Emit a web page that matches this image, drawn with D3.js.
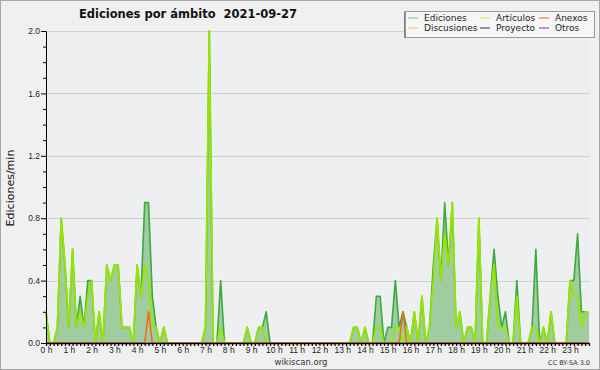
<!DOCTYPE html>
<html lang="es">
<head>
<meta charset="UTF-8">
<title>Ediciones por ámbito</title>
<script src="https://d3js.org/d3.v7.min.js"></script>
<style>
  body { margin: 0; background: #f0f0f0; }
  svg { display: block; font-family: "DejaVu Sans", sans-serif; }
</style>
</head>
<body>
<div id="chart"></div>
<script>
// one value per 10 minutes, 0:00 .. 23:50 (edits per minute)
var hourLabels = ["0 h","1 h","2 h","3 h","4 h","5 h","6 h","7 h","8 h","9 h","10 h","11 h",
                  "12 h","13 h","14 h","15 h","16 h","17 h","18 h","19 h","20 h","21 h","22 h","23 h"];

var ediciones = [
  0.2,0,0,0.1,0.8,0.5,  0.1,0.6,0.1,0.3,0.1,0.4,  0.4,0,0.2,0,0.5,0.4,  0.5,0.5,0.1,0.1,0.1,0,
  0.5,0.3,0.9,0.9,0.3,0.1,  0,0.1,0,0,0,0,  0,0,0,0,0,0,  0.1,2.0,0,0,0.4,0,
  0,0,0,0,0,0.1,  0,0,0.1,0.1,0.2,0,  0,0,0,0,0,0,  0,0,0,0,0,0,
  0,0,0,0,0,0,  0,0,0,0.1,0.1,0,  0.1,0,0,0.3,0.3,0,  0.1,0.1,0.4,0.1,0.2,0.1,
  0,0.2,0,0.3,0,0.1,  0.5,0.8,0.4,0.9,0.5,0.9,  0.1,0.2,0,0.1,0.1,0,  0.8,0,0,0.3,0.6,0.3,
  0.1,0.2,0,0,0.4,0,  0,0,0.1,0.6,0,0.1,  0,0.2,0,0,0,0,  0.4,0.4,0.7,0.2,0.2,0.2
];
var articulos = [
  0.2,0,0,0.1,0.8,0.5,  0.1,0.6,0.1,0.2,0.1,0.3,  0.4,0,0.2,0,0.5,0.4,  0.5,0.5,0.1,0.1,0.1,0,
  0.5,0.3,0.5,0.4,0.1,0.1,  0,0.1,0,0,0,0,  0,0,0,0,0,0,  0.1,2.0,0,0,0.1,0,
  0,0,0,0,0,0.1,  0,0,0.1,0.1,0,0,  0,0,0,0,0,0,  0,0,0,0,0,0,
  0,0,0,0,0,0,  0,0,0,0.1,0.1,0,  0.1,0,0,0.1,0.1,0,  0,0,0.1,0.1,0,0.1,
  0,0.2,0,0.3,0,0.1,  0.4,0.8,0.4,0.7,0.5,0.9,  0.1,0.2,0,0.1,0.1,0,  0.8,0,0,0.3,0.5,0.1,
  0.1,0.1,0,0,0.3,0,  0,0,0.1,0.1,0,0.1,  0,0.2,0,0,0,0,  0.4,0.3,0.3,0.1,0.2,0.2
];
var anexos = [
  0,0,0,0,0,0,  0,0,0,0,0,0,  0,0,0,0,0,0,  0,0,0,0,0,0,
  0,0,0,0.2,0,0,  0,0,0,0,0,0,  0,0,0,0,0,0,  0,0,0,0,0,0,
  0,0,0,0,0,0,  0,0,0,0,0,0,  0,0,0,0,0,0,  0,0,0,0,0,0,
  0,0,0,0,0,0,  0,0,0,0,0,0,  0,0,0,0,0,0,  0,0,0,0,0.2,0,
  0,0,0,0,0,0,  0,0,0,0,0,0,  0,0,0,0,0,0,  0,0,0,0,0,0,
  0,0,0,0,0,0,  0,0,0,0,0,0,  0,0,0,0,0,0,  0,0,0,0,0,0
];
// discusiones, proyecto, otros: nothing this day
var discusiones = [
  0,0,0,0,0,0,0,0,0,0,0,0,0,0,0,0,0,0,0,0,0,0,0,0,0,0,0,0,0,0,0,0,0,0,0,0,
  0,0,0,0,0,0,0,0,0,0,0,0,0,0,0,0,0,0,0,0,0,0,0,0,0,0,0,0,0,0,0,0,0,0,0,0,
  0,0,0,0,0,0,0,0,0,0,0,0,0,0,0,0,0,0,0,0,0,0,0,0,0,0,0,0,0,0,0,0,0,0,0,0,
  0,0,0,0,0,0,0,0,0,0,0,0,0,0,0,0,0,0,0,0,0,0,0,0,0,0,0,0,0,0,0,0,0,0,0,0
];
var proyecto = discusiones.slice();
var otros = discusiones.slice();

var legendNames = ["Ediciones","Artículos","Anexos","Discusiones","Proyecto","Otros"];
var legendColors = ["#8ccf8c","#cdee66","#ee7d3c","#eed45a","#555555","#9a4cf0"];

const W = 600, H = 370;
const margin = {top: 31, right: 11, bottom: 27, left: 46},
      width = W - margin.left - margin.right,
      height = H - margin.top - margin.bottom;

const svg = d3.select("#chart").append("svg")
    .attr("width", W).attr("height", H);

svg.append("rect").attr("x", 0.5).attr("y", 0.5).attr("width", W - 1).attr("height", H - 1)
    .attr("fill", "#f0f0f0").attr("stroke", "#a8a8a8");

const g = svg.append("g").attr("transform", `translate(${margin.left},${margin.top})`);

const x = d3.scaleLinear().domain([0, ediciones.length - 1]).range([0, width]);
const y = d3.scaleLinear().domain([0, 2]).range([height, 0]);

g.append("rect").attr("width", width).attr("height", height).attr("fill", "#eeeff1");

// grid
const yTicks = d3.range(0, 21).map(k => k / 10);
g.append("g").selectAll("line")
  .data(yTicks.filter((d, k) => k % 4 === 0 && d > 0))
  .join("line")
    .attr("x1", 0).attr("x2", width)
    .attr("y1", d => Math.round(y(d)) + 0.5).attr("y2", d => Math.round(y(d)) + 0.5)
    .attr("stroke", "#cfcfcf");

// total area
const area = d3.area().x((d, i) => x(i)).y0(y(0)).y1(d => y(d));
const line = d3.line().x((d, i) => x(i)).y(d => y(d));

g.append("path").datum(ediciones).attr("d", area).attr("fill", "#a0cca0");

var series = [
  {v: otros, c: "#9a4cf0", w: 1.5},
  {v: proyecto, c: "#555555", w: 1.5},
  {v: discusiones, c: "#eed45a", w: 1.5},
  {v: ediciones, c: "#3caa3c", w: 1.6},
  {v: articulos, c: "#96e600", w: 1.8},
  {v: anexos, c: "#ee6a1c", w: 1.5}
];
g.append("g").selectAll("path")
  .data(series)
  .join("path")
    .attr("d", d => line(d.v))
    .attr("fill", "none")
    .attr("stroke", d => d.c)
    .attr("stroke-width", d => d.w)
    .attr("stroke-linejoin", "round");

// axes
const yAxis = g.append("g")
  .call(d3.axisLeft(y).tickValues(yTicks).tickSize(3).tickSizeOuter(0)
    .tickFormat((d, k) => k % 4 === 0 ? d3.format(".1f")(d) : ""));
yAxis.selectAll(".tick line").attr("x2", (d, k) => k % 4 === 0 ? -5 : -3);
yAxis.selectAll("text").attr("x", -6).attr("font-size", 8.5).attr("fill", "#222");
yAxis.select(".domain").attr("stroke", "#000");

const xAxis = g.append("g").attr("transform", `translate(0,${height})`)
  .call(d3.axisBottom(x).tickValues(d3.range(0, ediciones.length)).tickSize(3).tickSizeOuter(0)
    .tickFormat(i => i % 6 === 0 ? hourLabels[i / 6] : ""));
xAxis.selectAll("text").attr("y", 4).attr("font-size", 8.5).attr("fill", "#222");
xAxis.selectAll(".tick line").attr("stroke-width", 1.2);
xAxis.select(".domain").attr("stroke", "#000").attr("stroke-width", 1.5);

// titles
svg.append("text").attr("x", 188).attr("y", 18).attr("text-anchor", "middle")
  .attr("font-size", 11.5).attr("font-weight", "bold").attr("fill", "#111")
  .attr("xml:space", "preserve")
  .text("Ediciones por ámbito  2021-09-27");

svg.append("text").attr("transform", "translate(14,188) rotate(-90)")
  .attr("text-anchor", "middle").attr("font-size", 11).attr("fill", "#111")
  .text("Ediciones/min");

svg.append("text").attr("x", 301).attr("y", 365).attr("text-anchor", "middle")
  .attr("font-size", 8.5).attr("fill", "#333").text("wikiscan.org");
svg.append("text").attr("x", 590).attr("y", 365).attr("text-anchor", "end")
  .attr("font-size", 6.5).attr("fill", "#333").text("CC BY-SA 3.0");

// legend
const lg = svg.append("g");
lg.append("rect").attr("x", 404.5).attr("y", 11.5).attr("width", 190).attr("height", 26)
  .attr("fill", "#f6f6f6").attr("stroke", "#9a9a9a");
lg.append("line").attr("x1", 405).attr("x2", 405).attr("y1", 12).attr("y2", 38)
  .attr("stroke", "#777").attr("stroke-width", 1.5);
const colX = [408, 480, 539];
lg.selectAll("g").data(legendNames).join("g")
  .attr("transform", (d, k) => `translate(${colX[k % 3]},${k < 3 ? 21 : 31})`)
  .each(function(d, k) {
    const e = d3.select(this);
    e.append("line").attr("x1", 0).attr("x2", 10).attr("y1", -3).attr("y2", -3)
      .attr("stroke", legendColors[k]).attr("stroke-width", 1.2);
    e.append("text").attr("x", 16).attr("y", 0).attr("font-size", 9).attr("fill", "#222").text(d);
  });
</script>
</body>
</html>
